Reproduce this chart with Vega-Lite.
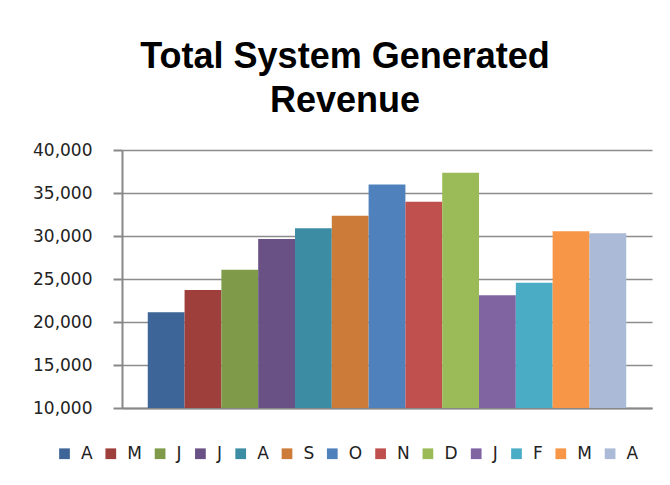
{
  "$schema": "https://vega.github.io/schema/vega-lite/v6.json",
  "width": 530,
  "height": 258,
  "autosize": {"type": "none"},
  "padding": {"left": 122, "top": 150, "right": 18, "bottom": 77},
  "background": "white",
  "title": {
    "text": ["Total System Generated", "Revenue"],
    "font": "Liberation Sans",
    "fontSize": 36,
    "fontWeight": "bold",
    "color": "#000000",
    "lineHeight": 44,
    "anchor": "middle",
    "dx": -42,
    "offset": 21
  },
  "data": {
    "values": [
      {"month": "Apr", "revenue": 21130},
      {"month": "May", "revenue": 23720},
      {"month": "Jun", "revenue": 26080},
      {"month": "Jul", "revenue": 29650},
      {"month": "Aug", "revenue": 30890},
      {"month": "Sep", "revenue": 32360},
      {"month": "Oct", "revenue": 36000},
      {"month": "Nov", "revenue": 33990},
      {"month": "Dec", "revenue": 37360},
      {"month": "Jan", "revenue": 23100},
      {"month": "Feb", "revenue": 24570},
      {"month": "Mar", "revenue": 30540},
      {"month": "Apr2", "revenue": 30310}
    ]
  },
  "mark": {"type": "bar"},
  "encoding": {
    "x": {
      "field": "month",
      "type": "nominal",
      "sort": null,
      "scale": {"paddingInner": 0, "paddingOuter": 0.7},
      "axis": {
        "title": null,
        "labels": false,
        "ticks": false,
        "domain": true,
        "domainColor": "#888888",
        "domainWidth": 2
      }
    },
    "y": {
      "field": "revenue",
      "type": "quantitative",
      "scale": {"domain": [10000, 40000], "zero": false, "nice": false},
      "axis": {
        "title": null,
        "values": [10000, 15000, 20000, 25000, 30000, 35000, 40000],
        "format": ",d",
        "labelFont": "DejaVu Sans",
        "labelFontSize": 17,
        "labelColor": "#222222",
        "labelPadding": 21,
        "tickSize": 9,
        "tickColor": "#888888",
        "tickWidth": 2,
        "domainColor": "#888888",
        "domainWidth": 2,
        "grid": true,
        "gridColor": "#8c8c8c",
        "gridWidth": 1.5
      }
    },
    "y2": {"datum": 10000},
    "color": {
      "field": "month",
      "type": "nominal",
      "scale": {
        "domain": ["Apr", "May", "Jun", "Jul", "Aug", "Sep", "Oct", "Nov", "Dec", "Jan", "Feb", "Mar", "Apr2"],
        "range": ["#3D6597", "#9E3F3C", "#7F9A48", "#695185", "#3C8DA3", "#CC7B38", "#4F81BD", "#C0504D", "#9BBB59", "#8064A2", "#4BACC6", "#F79646", "#AABAD7"]
      },
      "legend": {
        "title": null,
        "orient": "none",
        "direction": "horizontal",
        "columns": 13,
        "legendX": -66,
        "legendY": 295,
        "symbolType": "square",
        "symbolSize": 115,
        "symbolStrokeWidth": 0,
        "symbolOpacity": 1,
        "labelFont": "DejaVu Sans",
        "labelFontSize": 17,
        "labelColor": "#222222",
        "labelOffset": 8,
        "columnPadding": 9.3,
        "labelExpr": "substring(datum.label, 0, 1)"
      }
    }
  },
  "config": {
    "view": {"stroke": null}
  }
}
